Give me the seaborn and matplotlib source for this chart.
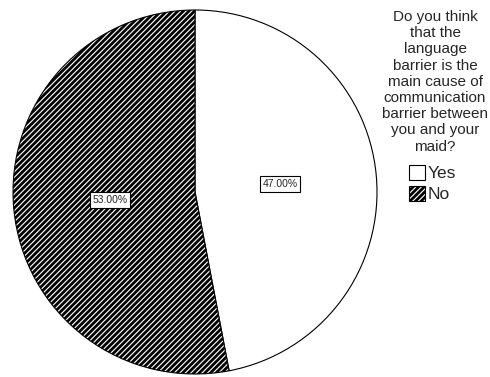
import matplotlib
matplotlib.use("Agg")
import matplotlib.pyplot as plt
import seaborn as sns
from matplotlib.patches import Patch

categories = ["Yes", "No"]
values = [47.00, 53.00]
labels = ["47.00%", "53.00%"]
legend_title = ("Do you think\nthat the\nlanguage\nbarrier is the\nmain cause of\n"
                "communication\nbarrier between\nyou and your\nmaid?")

sns.set_theme(style="white")
plt.rcParams['font.family'] = ['Liberation Sans', 'DejaVu Sans']
plt.rcParams['hatch.linewidth'] = 2.0

fig = plt.figure(figsize=(4.9, 3.77), dpi=100)
W, H = 490, 377
ax = fig.add_axes([13 / W, (H - 374) / H, 364 / W, 364 / H])

face = ["white", "white"]
hatches = ["", "//////"]
wedges, texts = ax.pie(values, colors=face, startangle=90, counterclock=False,
                       labels=labels, labeldistance=0.47,
                       wedgeprops=dict(edgecolor="black", linewidth=0.8),
                       textprops=dict(fontsize=7.5, ha="center", va="center",
                                      bbox=dict(boxstyle="square,pad=0.25", fc="white",
                                                ec="black", lw=0.8)))
for w, h in zip(wedges, hatches):
    w.set_hatch(h)
ax.set_xlim(-1, 1)
ax.set_ylim(-1, 1)
ax.set_aspect("auto")
ax.axis("off")

fig.text(435 / W, 1 - 10 / H, legend_title, ha="center", va="top",
         fontsize=11, linespacing=1.2)

handles = [Patch(facecolor="white", edgecolor="black", hatch=h, linewidth=0.8)
           for h in hatches]
fig.legend(handles, categories, loc="upper left", bbox_to_anchor=(409 / W, 1 - 165 / H),
           frameon=False, fontsize=12.5, handlelength=0.95, handleheight=0.95,
           handletextpad=0.1, labelspacing=0.25, borderpad=0, borderaxespad=0)

fig.savefig("out.png", dpi=100)
